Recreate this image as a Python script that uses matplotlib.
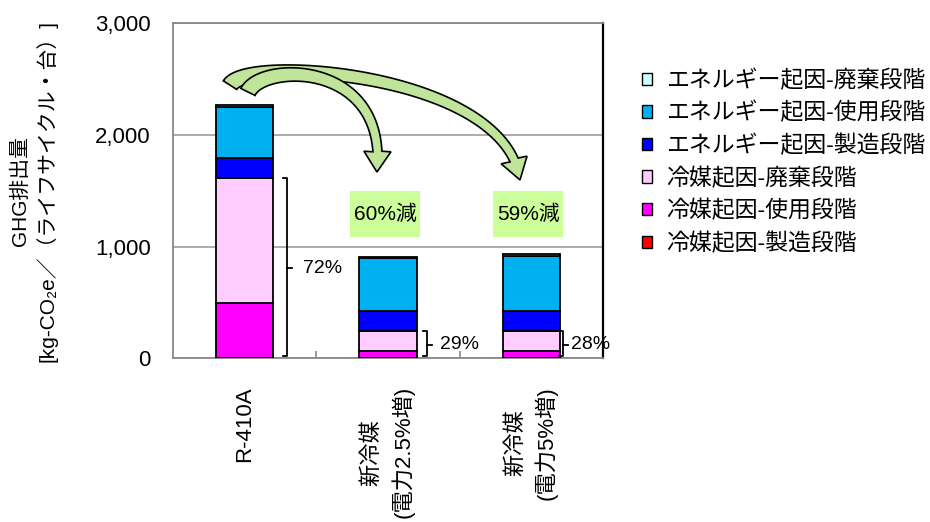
import numpy as np
import matplotlib
matplotlib.use("Agg")
import matplotlib.pyplot as plt
from matplotlib.patches import Rectangle, Patch, Polygon

plt.rcParams['font.family'] = ['Liberation Sans', 'Noto Sans CJK JP', 'DejaVu Sans']

# Data (kg-CO2e per lifecycle per unit)
categories = ["R-410A", "新冷媒\n(電力2.5%増)", "新冷媒\n(電力5%増)"]
ref_mfg = [5, 3, 3]          # 冷媒起因-製造段階
ref_use = [490, 63, 63]      # 冷媒起因-使用段階
ref_disp = [1120, 181, 181]  # 冷媒起因-廃棄段階
en_mfg = [182, 179, 179]     # エネルギー起因-製造段階
en_use = [454, 469, 490]     # エネルギー起因-使用段階
en_disp = [15, 15, 15]       # エネルギー起因-廃棄段階

share_labels = ["72%", "29%", "28%"]
reduction_labels = ["60%減", "59%減"]

series = [
    (ref_mfg, "冷媒起因-製造段階", "#ff0000"),
    (ref_use, "冷媒起因-使用段階", "#ff00ff"),
    (ref_disp, "冷媒起因-廃棄段階", "#ffccff"),
    (en_mfg, "エネルギー起因-製造段階", "#0000ff"),
    (en_use, "エネルギー起因-使用段階", "#00b0f0"),
    (en_disp, "エネルギー起因-廃棄段階", "#ccffff"),
]

fig = plt.figure(figsize=(9.3, 5.22), dpi=100)
ax = fig.add_axes([0.186, 0.3136, 0.4624, 0.6418])

x = np.arange(len(categories))
bottom = np.zeros(len(categories))
handles = []
for vals, name, col in series:
    ax.bar(x, vals, width=0.4, bottom=bottom, color=col, edgecolor="black",
           linewidth=1.3, zorder=3)
    bottom += np.array(vals)
    handles.append(Patch(facecolor=col, edgecolor="black", linewidth=1.0, label=name))
ref_total = np.array(ref_mfg) + np.array(ref_use) + np.array(ref_disp)

ax.set_xlim(-0.5, 2.5)
ax.set_ylim(0, 3000)
ax.set_yticks([0, 1000, 2000, 3000])
ax.set_yticklabels(["{:,}".format(v) for v in [0, 1000, 2000, 3000]], fontsize=16)
ax.tick_params(axis="y", length=0, pad=16)
ax.set_xticks(x)
ax.set_xticklabels(categories, rotation=90, fontsize=16, va="top", ha="center",
                   multialignment="center", linespacing=1.45)
ax.tick_params(axis="x", which="major", length=0, pad=20)
ax.set_xticks([0.5, 1.5], minor=True)
ax.tick_params(axis="x", which="minor", direction="in", length=5, color="#888888", width=1.2)

ax.yaxis.grid(True, color="#a6a6a6", linewidth=1.3)
ax.set_axisbelow(True)
for s in ["left", "bottom", "top"]:
    ax.spines[s].set_color("#888888")
    ax.spines[s].set_linewidth(1.3)
ax.spines["right"].set_color("black")
ax.spines["right"].set_linewidth(1.6)

# y axis title, two lines placed separately
fig.text(0.0215, 0.634, "GHG排出量", rotation=90, fontsize=15, ha="center", va="center")
fig.text(0.0505, 0.634, "[kg-CO₂e／（ライフサイクル・台）]", rotation=90, fontsize=15,
         ha="center", va="center")

# brackets showing refrigerant share
br_off = [0.096, 0.07, 0.02]
lab_off = [0.186, 0.14, 0.056]
for i in range(len(categories)):
    bx = x[i] + 0.2 + br_off[i]
    top = ref_total[i]
    ax.plot([bx - 0.025, bx, bx, bx - 0.025], [top, top, 25, 25], color="black",
            lw=1.3, clip_on=False, zorder=4)
    ax.plot([bx, bx + 0.035], [top / 2, top / 2], color="black", lw=1.3,
            clip_on=False, zorder=4)
    ax.text(x[i] + 0.2 + lab_off[i] + 0.02, top / 2, share_labels[i], fontsize=14,
            va="center", ha="left", zorder=5)

# reduction boxes
for j, lab in enumerate(reduction_labels):
    i = j + 1
    ax.add_patch(Rectangle((x[i] - 0.265, 1084), 0.488, 412, facecolor="#ccff99",
                           edgecolor="none", zorder=4))
    ax.text(x[i] - 0.02, 1290, lab, fontsize=15, ha="center", va="center", zorder=5)


# curved block arrows from R-410A to the new refrigerants (cubic bezier, built in pixels)
def curved_arrow(ctrl, w0=16, w1=9, head_w=27, head_l=20):
    P = ax.transData.transform(np.array(ctrl, dtype=float))
    t = np.linspace(0, 1, 200)[:, None]
    c = ((1 - t) ** 3) * P[0] + 3 * ((1 - t) ** 2) * t * P[1] + 3 * (1 - t) * t ** 2 * P[2] + t ** 3 * P[3]
    tip = c[-1]
    d = np.hypot(*(c - tip).T)
    k = np.where(d >= head_l)[0][-1]
    shaft = c[:k + 1]
    tang = np.gradient(shaft, axis=0)
    tang /= np.hypot(*tang.T)[:, None]
    nrm = np.stack([-tang[:, 1], tang[:, 0]], axis=1)
    w = np.linspace(w0, w1, len(shaft))[:, None] / 2
    left = shaft + nrm * w
    right = shaft - nrm * w
    hd = (tip - shaft[-1]) / np.hypot(*(tip - shaft[-1]))
    hn = np.array([-hd[1], hd[0]])
    base = shaft[-1]
    poly = np.vstack([left, base + hn * head_w / 2, tip, base - hn * head_w / 2, right[::-1]])
    poly = ax.transData.inverted().transform(poly)
    ax.add_patch(Polygon(poly, closed=True, facecolor="#bfe49a", edgecolor="black",
                         linewidth=1.2, zorder=6, clip_on=False))


arrow_to_5 = [(-0.102, 2446), (0.023, 2716), (1.816, 2563), (1.921, 1597)]
arrow_to_25 = [(0.023, 2385), (0.121, 2653), (1.0, 2671), (0.923, 1668)]
curved_arrow(arrow_to_5)
curved_arrow(arrow_to_25)

fig.legend(handles=handles[::-1], loc="upper left", bbox_to_anchor=(0.690, 0.868),
           frameon=False, fontsize=16.5, handlelength=0.45, handleheight=0.45,
           handletextpad=0.6, labelspacing=0.42, borderpad=0, borderaxespad=0)

fig.savefig("out.png", dpi=100)
